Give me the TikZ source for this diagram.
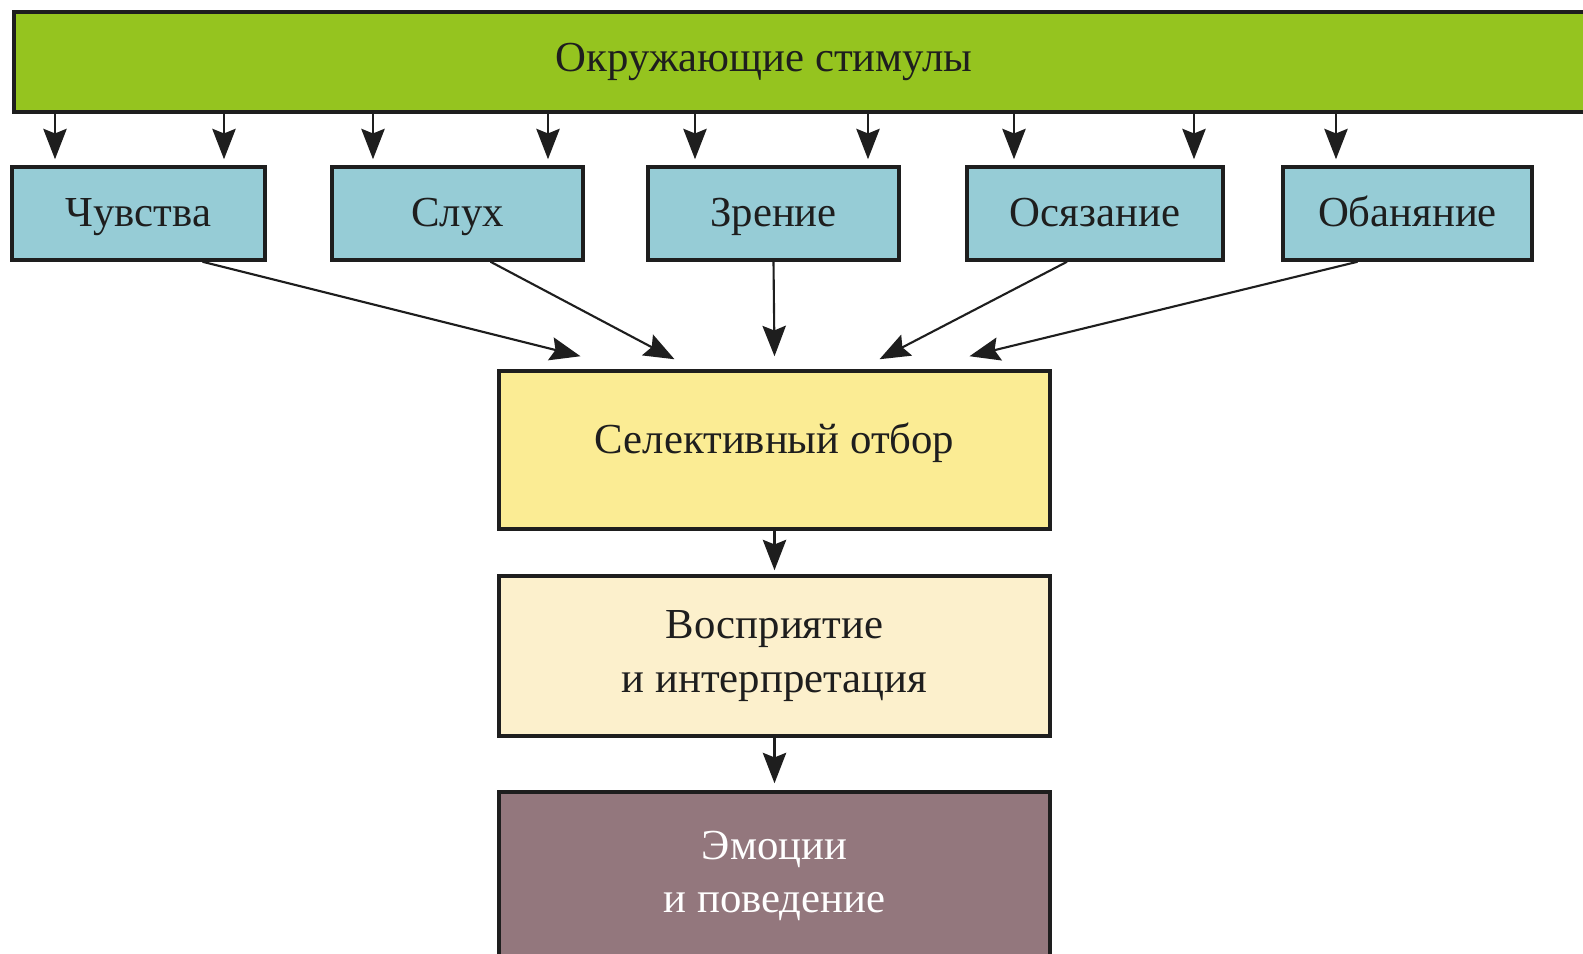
\documentclass[tikz,border=0pt]{standalone}
\usepackage{fontspec}
\setmainfont{Liberation Serif}
\usetikzlibrary{arrows.meta}

\definecolor{stimgreen}{HTML}{95C41F}
\definecolor{senseblue}{HTML}{96CCD6}
\definecolor{selyellow}{HTML}{FBEC94}
\definecolor{percyellow}{HTML}{FCF0CC}
\definecolor{emomauve}{HTML}{93777D}
\definecolor{inkdark}{HTML}{1E1E1E}

\def\u{0.03cm}

\tikzset{
  box/.style={draw=inkdark, line width=3pt, inner sep=0pt, text=inkdark,
    font=\fontsize{36.5}{46}\selectfont, align=center},
  oneline/.style={text height=30pt, text depth=7pt},
  sensebox/.style={box, oneline, fill=senseblue, minimum height=93*\u},
  midbox/.style={box, minimum width=551*\u},
  arr/.style={draw=inkdark, line width=1.8pt,
    -{Stealth[length=26pt,width=20pt,inset=4pt]}}
}

\begin{document}
\begin{tikzpicture}[x=\u, y=-\u]
  \clip (0,0) rectangle (1583,954);
  \fill[white] (0,0) rectangle (1583,954);

  % top bar
  \node[box, fill=stimgreen, minimum width=1620*\u, minimum height=100*\u,
    anchor=north west] (stim) at (12,10) {};
  \node[box, oneline, draw=none] (stimtext) at (764,58) {Окружающие стимулы};

  % senses
  \node[sensebox, minimum width=253*\u] (chuv) at (138.5,213.5) {Чувства};
  \node[sensebox, minimum width=251*\u] (slukh) at (457.5,213.5) {Слух};
  \node[sensebox, minimum width=251*\u] (zren) at (773.5,213.5) {Зрение};
  \node[sensebox, minimum width=256*\u] (osyaz) at (1095,213.5) {Осязание};
  \node[sensebox, minimum width=249*\u] (oban) at (1407.5,213.5) {Обаняние};

  % processing chain
  \node[midbox, text height=8pt, text depth=2pt, fill=selyellow, minimum height=158*\u] (sel) at (774.5,450) {Селективный отбор};
  \node[midbox, fill=percyellow, minimum height=160*\u] (perc) at (774.5,656) {Восприятие\\и интерпретация};
  \node[midbox, fill=emomauve, minimum height=168*\u, text=white] (emo) at (774.5,876) {Эмоции\\и поведение};

  % stimuli -> senses
  \foreach \x in {55,224,373,548,695,868,1014,1194,1336}
    \draw[arr, shorten >=6*\u] (stim.south -| \x,0) -- (\x,0 |- chuv.north);

  % senses -> selection
  \draw[arr] ([xshift=64*\u]chuv.south) -- ([xshift=-194*\u,yshift=13*\u]sel.north);
  \draw[arr] ([xshift=33*\u]slukh.south) -- ([xshift=-100*\u,yshift=10*\u]sel.north);
  \draw[arr] (zren.south) -- ([yshift=13*\u]sel.north);
  \draw[arr] ([xshift=-28*\u]osyaz.south) -- ([xshift=105*\u,yshift=10*\u]sel.north);
  \draw[arr] ([xshift=-50*\u]oban.south) -- ([xshift=195*\u,yshift=13*\u]sel.north);

  % chain
  \draw[arr, shorten >=4*\u] (sel.south) -- (perc.north);
  \draw[arr, shorten >=7*\u] (perc.south) -- (emo.north);
\end{tikzpicture}
\end{document}
